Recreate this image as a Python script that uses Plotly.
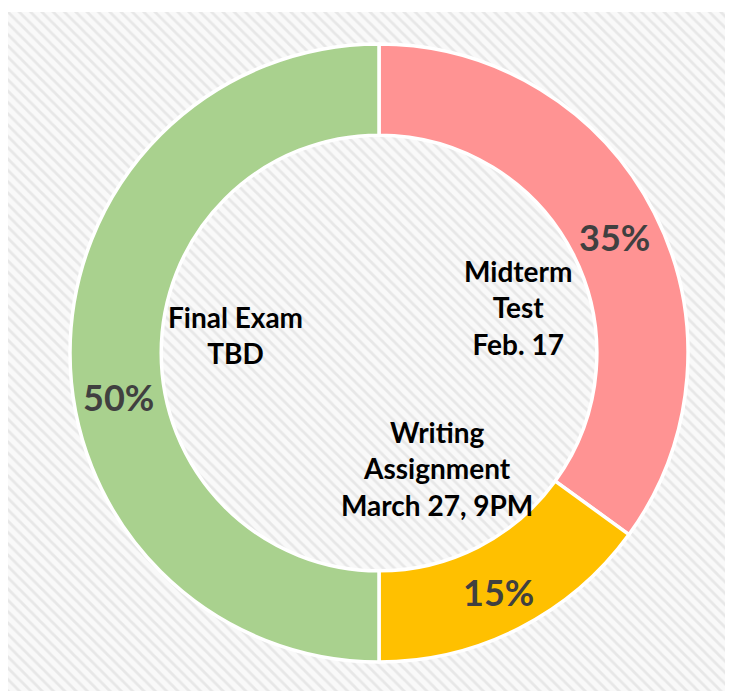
import plotly.graph_objects as go

# ---- data ----
categories = ["Midterm Test", "Writing Assignment", "Final Exam"]
values = [35, 15, 50]
details = ["Midterm<br>Test<br>Feb. 17", "Writing<br>Assignment<br>March 27, 9PM", "Final Exam<br>TBD"]
colors = ["#FF9393", "#FFC000", "#A9D18E"]

# the page body has an 8px margin
OFF = 8
W, H = 733 - OFF, 691 - OFF
cx, cy, R = 379 - OFF, 353 - OFF, 309

fig = go.Figure()

# hatched background panel
fig.add_trace(go.Bar(
    x=[0.5], y=[2], width=[2], xaxis="x", yaxis="y",
    marker=dict(color="#f7f7f7", line=dict(width=0),
                pattern=dict(shape="\\", fgcolor="#d6d6d6", bgcolor="#f9f9f9",
                             size=8, solidity=0.35)),
    hoverinfo="skip", showlegend=False, cliponaxis=True,
))

fig.add_trace(go.Pie(
    labels=categories, values=values, sort=False, direction="clockwise",
    rotation=0, hole=0.705,
    marker=dict(colors=colors, line=dict(color="white", width=3.5)),
    textinfo="none",
    domain=dict(x=[(cx - R) / W, (cx + R) / W], y=[(H - cy - R) / H, (H - cy + R) / H]),
    showlegend=False, hoverinfo="label+percent",
))

total = sum(values)
pct_pos = {"Midterm Test": (614, 237), "Writing Assignment": (498, 592), "Final Exam": (119, 397)}
label_pos = {"Midterm Test": (518, 307), "Writing Assignment": (437, 468), "Final Exam": (235, 335)}
for cat, val, txt in zip(categories, values, details):
    px, py = pct_pos[cat]
    fig.add_annotation(x=(px - OFF) / W, y=1 - (py - OFF) / H, xref="paper", yref="paper",
                       text="<b>%d%%</b>" % round(100 * val / total), showarrow=False,
                       font=dict(family="Lato", size=36, color="#404040"),
                       xanchor="center", yanchor="middle")
    px, py = label_pos[cat]
    fig.add_annotation(x=(px - OFF) / W, y=1 - (py - OFF) / H, xref="paper", yref="paper",
                       text="<b>" + txt + "</b>", showarrow=False,
                       font=dict(family="Lato", size=28, color="black"),
                       align="center", xanchor="center", yanchor="middle")

fig.update_layout(
    width=W, height=H, margin=dict(l=0, r=0, t=0, b=0, pad=0),
    paper_bgcolor="#f9f9f9", plot_bgcolor="rgba(0,0,0,0)",
    xaxis=dict(domain=[0, 1], range=[0, 1], visible=False, fixedrange=True),
    yaxis=dict(domain=[0, 1 - 4 / H], range=[0, 1], visible=False, fixedrange=True),
    bargap=0,
    shapes=[dict(type="rect", xref="paper", yref="paper", x0=0, x1=1, y0=1 - 4 / H, y1=1,
                 fillcolor="white", line=dict(width=0), layer="below")],
)

fig.write_html("out.html")
